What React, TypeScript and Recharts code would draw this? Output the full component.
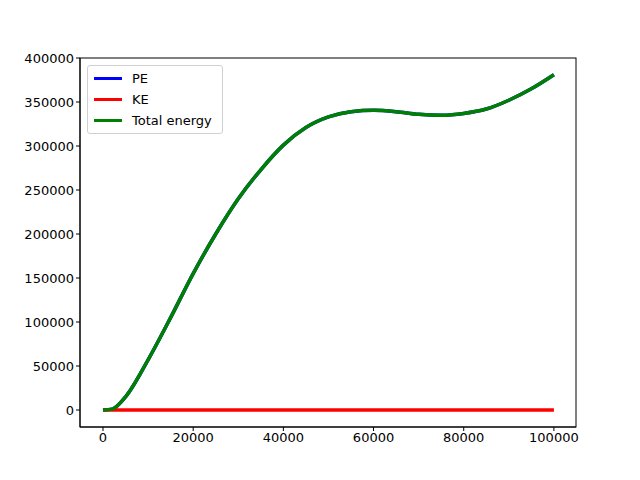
import { LineChart, Line, XAxis, YAxis } from 'recharts'

const steps = [0, 2000, 5000, 10000, 15000, 20000, 25000, 30000, 35000, 40000, 45000, 50000, 55000, 60000, 65000, 70000, 75000, 80000, 85000, 90000, 95000, 100000]
const peValues = [0, 1000, 15000, 57000, 105000, 155000, 200000, 240000, 273000, 301000, 321000, 333000, 339000, 340500, 339000, 336000, 335000, 337000, 342000, 352000, 365000, 381000]
const keValues = steps.map(() => 0)
const totalValues = peValues.map((v, i) => v + keValues[i])
const xTicks = [0, 20000, 40000, 60000, 80000, 100000]
const yTicks = [0, 50000, 100000, 150000, 200000, 250000, 300000, 350000, 400000]

const data = steps.map((s, i) => ({ step: s, pe: peValues[i], ke: keValues[i], total: totalValues[i] }))

const legendItems = [
  { label: 'PE', color: '#0000ff' },
  { label: 'KE', color: '#ff0000' },
  { label: 'Total energy', color: '#008000' },
]

const tick = { fill: '#000', fontSize: 13 }

export default function App() {
  return (
    <div style={{ position: 'absolute', left: 0, top: 0, width: 640, height: 480, background: 'white', fontFamily: 'DejaVu Sans' }}>
      <LineChart width={640} height={480} data={data} margin={{ top: 58, right: 64, left: 0, bottom: 0 }}>
        <XAxis
          dataKey="step"
          type="number"
          domain={[-5100, 104900]}
          ticks={xTicks}
          tick={tick}
          stroke="#000"
          tickSize={4}
          height={53}
          allowDataOverflow
        />
        <YAxis
          type="number"
          domain={[-19300, 400000]}
          ticks={yTicks}
          tick={tick}
          stroke="#000"
          tickSize={4}
          width={80}
          allowDataOverflow
        />
        <Line dataKey="pe" type="monotone" stroke="#0000ff" strokeWidth={3.5} dot={false} isAnimationActive={false} />
        <Line dataKey="ke" type="monotone" stroke="#ff0000" strokeWidth={3.5} dot={false} isAnimationActive={false} />
        <Line dataKey="total" type="monotone" stroke="#008000" strokeWidth={3.5} dot={false} isAnimationActive={false} />
        <rect x={80} y={58} width={496} height={369} fill="none" stroke="#000" />
      </LineChart>
      <div style={{ position: 'absolute', left: 87, top: 65, border: '1px solid #d0d0d0', borderRadius: 3, background: 'white', padding: '2px 6px', width: 122 }}>
        {legendItems.map((it) => (
          <div key={it.label} style={{ display: 'flex', alignItems: 'center', height: 21 }}>
            <span style={{ display: 'inline-block', width: 28, height: 3.5, background: it.color, marginRight: 10 }} />
            <span style={{ fontSize: 13, color: '#000' }}>{it.label}</span>
          </div>
        ))}
      </div>
    </div>
  )
}
